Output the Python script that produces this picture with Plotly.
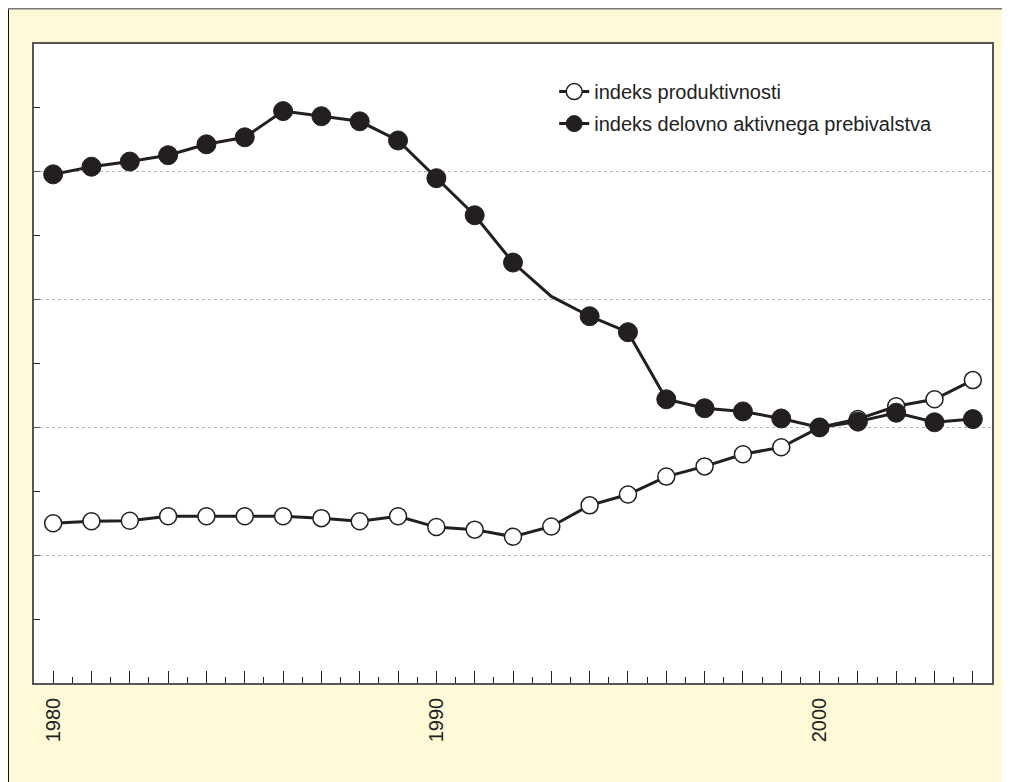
import plotly.graph_objects as go

# leta in indeksa (2000 = 100)
years = list(range(1980, 2005))
produktivnost = [85.0, 85.3, 85.4, 86.1, 86.1, 86.1, 86.1, 85.8, 85.3, 86.1,
                 84.4, 84.0, 82.9, 84.5, 87.8, 89.5, 92.3, 93.9, 95.8, 96.9,
                 100.0, 101.3, 103.3, 104.4, 107.4]
aktivno_preb = [139.6, 140.8, 141.6, 142.6, 144.3, 145.4, 149.5, 148.7, 147.9, 144.9,
                139.0, 133.2, 125.8, 120.5, 117.4, 114.9, 104.4, 103.0, 102.5, 101.4,
                100.0, 100.9, 102.3, 100.8, 101.3]
labels = ["indeks produktivnosti", "indeks delovno aktivnega prebivalstva"]
label_years = [1980, 1990, 2000]
no_marker_year = 1993  # v izvirniku tu ni oznake

INK = "#231F20"
YELLOW = "#FFF9D7"
FONT = "Liberation Sans, Arial, sans-serif"

# stran ima 8px roba, zato je slika manjša
W, H = 1002, 774
ML, MR, MT, MB = 26, 18, 36, 99
PW, PH = W - ML - MR, H - MT - MB

fig = go.Figure()

fig.add_trace(go.Scatter(
    x=years, y=produktivnost, name=labels[0], mode="lines+markers",
    legendgroup="a",
    line=dict(color=INK, width=3),
    marker=dict(size=17, color="white", opacity=1,
                line=dict(color=INK, width=1.5)),
))

filled_sizes = [0 if y == no_marker_year else 19 for y in years]
fig.add_trace(go.Scatter(
    x=years, y=aktivno_preb, name=labels[1], mode="lines+markers",
    legendgroup="b",
    line=dict(color=INK, width=3),
    marker=dict(size=filled_sizes, color=INK, opacity=1,
                line=dict(color=INK, width=1)),
))

# rob okvirja (levo črn, zgoraj siv)
fig.add_shape(type="line", xref="paper", yref="paper",
              x0=(0 - ML) / PW, x1=(0 - ML) / PW, y0=-1, y1=(PH + MT) / PH,
              line=dict(color="#111111", width=2))
fig.add_shape(type="line", xref="paper", yref="paper",
              x0=(0 - ML) / PW, x1=1.5, y0=(PH + MT - 0.5) / PH, y1=(PH + MT - 0.5) / PH,
              line=dict(color="#777777", width=2))

fig.update_layout(
    width=W, height=H,
    margin=dict(l=ML, r=MR, t=MT, b=MB, autoexpand=False),
    paper_bgcolor=YELLOW, plot_bgcolor="white",
    font=dict(family=FONT, color=INK, size=20),
    showlegend=True,
    legend=dict(x=0.543, y=0.956, xanchor="left", yanchor="top",
                bgcolor="rgba(0,0,0,0)", font=dict(size=20, color="#222222"),
                traceorder="grouped", tracegroupgap=3),
)

fig.update_xaxes(
    range=[1979.5, 2004.5],
    tickmode="array", tickvals=years,
    ticktext=[str(y) if y in label_years else "" for y in years],
    tickangle=-90, ticks="inside", ticklen=12, tickcolor=INK, tickwidth=1,
    minor=dict(tick0=1979.5, dtick=0.5, ticks="inside", ticklen=6,
               tickcolor=INK, tickwidth=1),
    showgrid=False, zeroline=False,
    showline=True, linecolor="#555555", linewidth=1.5, mirror=True,
    ticklabelstandoff=5, tickfont=dict(size=20, color="#222222"),
)

fig.update_yaxes(
    range=[60, 160], dtick=20, tick0=60,
    showticklabels=False, ticks="inside", ticklen=6, tickcolor="#555555",
    minor=dict(dtick=10, ticks="inside", ticklen=6, tickcolor=INK, showgrid=False),
    showgrid=True, gridcolor="#B4B4B4", griddash="dot", gridwidth=1,
    zeroline=False,
    showline=True, linecolor="#555555", linewidth=1.5, mirror=True,
)

fig.write_html("out.html")
